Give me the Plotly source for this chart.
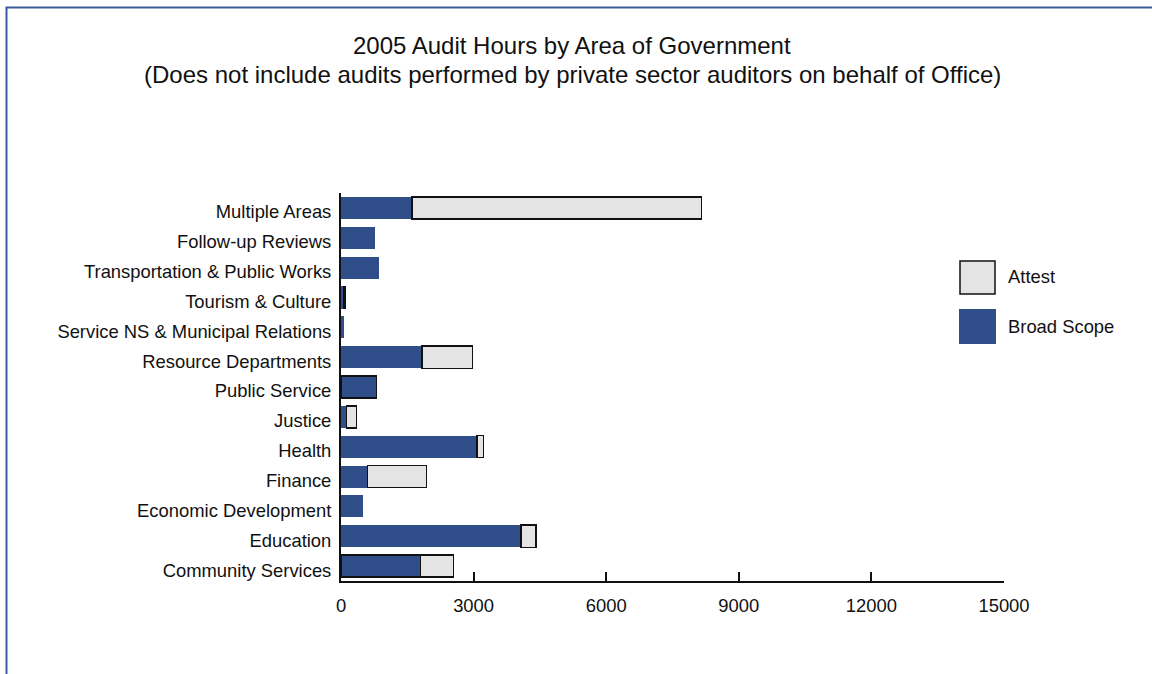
import plotly.graph_objects as go

# Categories listed bottom-to-top
areas = [
    "Community Services",
    "Education",
    "Economic Development",
    "Finance",
    "Health",
    "Justice",
    "Public Service",
    "Resource Departments",
    "Service NS & Municipal Relations",
    "Tourism & Culture",
    "Transportation & Public Works",
    "Follow-up Reviews",
    "Multiple Areas",
]
broad_scope = [1800, 4070, 490, 600, 3080, 130, 800, 1830, 75, 50, 860, 780, 1610]
attest = [750, 340, None, 1330, 150, 220, None, 1150, None, 40, None, None, 6540]
x_ticks = [0, 3000, 6000, 9000, 12000, 15000]

BLUE = "#304e8a"
GREY = "#e4e4e4"
FONT = "Liberation Sans, Arial, Helvetica, sans-serif"

W, H = 1152, 674
L, R, T, B = 341, 148, 193, 93
PW, PH = W - L - R, H - T - B


def px_x(px):
    return (px - L) / PW


def px_y(py):
    return (H - B - py) / PH


# Outline only the broad-scope bars that are drawn with a border
outline_w = [1.5 if a in ("Community Services", "Public Service") else 0 for a in areas]

fig = go.Figure()
fig.add_trace(go.Bar(
    y=areas, x=broad_scope, orientation="h", name="Broad Scope",
    marker=dict(color=BLUE, line=dict(color="#111111", width=outline_w)),
    showlegend=False,
))
fig.add_trace(go.Bar(
    y=areas, x=attest, orientation="h", name="Attest",
    marker=dict(color=GREY, line=dict(color="#111111", width=1.4)),
    showlegend=False,
))

shapes = [
    # outer frame
    dict(type="rect", xref="paper", yref="paper",
         x0=px_x(6.5), x1=px_x(1400), y0=px_y(900), y1=px_y(7.5),
         line=dict(color="#3b5a9c", width=2), fillcolor="rgba(0,0,0,0)", layer="below"),
    # legend swatches
    dict(type="rect", xref="paper", yref="paper",
         x0=px_x(960), x1=px_x(995), y0=px_y(294), y1=px_y(261),
         line=dict(color="#111111", width=1.5), fillcolor=GREY),
    dict(type="rect", xref="paper", yref="paper",
         x0=px_x(959), x1=px_x(996), y0=px_y(344), y1=px_y(309),
         line=dict(width=0), fillcolor=BLUE),
]

annotations = [
    dict(text="2005 Audit Hours by Area of Government", xref="paper", yref="paper",
         x=px_x(572), y=px_y(45), showarrow=False, xanchor="center", yanchor="middle",
         font=dict(size=24, color="#111111", family=FONT)),
    dict(text="(Does not include audits performed by private sector auditors on behalf of Office)",
         xref="paper", yref="paper", x=px_x(572), y=px_y(75), showarrow=False,
         xanchor="center", yanchor="middle", font=dict(size=24, color="#111111", family=FONT)),
    dict(text="Attest", xref="paper", yref="paper", x=px_x(1006), y=px_y(276),
         showarrow=False, xanchor="left", yanchor="middle",
         font=dict(size=18.4, color="#111111", family=FONT)),
    dict(text="Broad Scope", xref="paper", yref="paper", x=px_x(1006), y=px_y(326),
         showarrow=False, xanchor="left", yanchor="middle",
         font=dict(size=18.4, color="#111111", family=FONT)),
]

fig.update_layout(
    width=W, height=H,
    margin=dict(l=L, r=R, t=T, b=B, pad=0),
    barmode="stack", bargap=0.26,
    paper_bgcolor="white", plot_bgcolor="white",
    font=dict(family=FONT, size=18.4, color="#111111"),
    shapes=shapes, annotations=annotations,
    xaxis=dict(
        range=[0, 15000], tickvals=x_ticks, ticktext=[str(v) for v in x_ticks],
        showgrid=False, zeroline=False,
        showline=True, linecolor="#111111", linewidth=2,
        ticks="inside", ticklen=9, tickwidth=2, tickcolor="#111111",
        ticklabelstandoff=7,
        tickfont=dict(size=18.4, family=FONT, color="#111111"),
    ),
    yaxis=dict(
        categoryorder="array", categoryarray=areas, range=[-0.5, len(areas) - 0.5],
        showgrid=False, zeroline=False,
        showline=True, linecolor="#111111", linewidth=2,
        ticks="", ticklabelstandoff=4, ticklabelshift=4,
        tickfont=dict(size=18.4, family=FONT, color="#111111"),
    ),
)

fig.write_html("out.html")
